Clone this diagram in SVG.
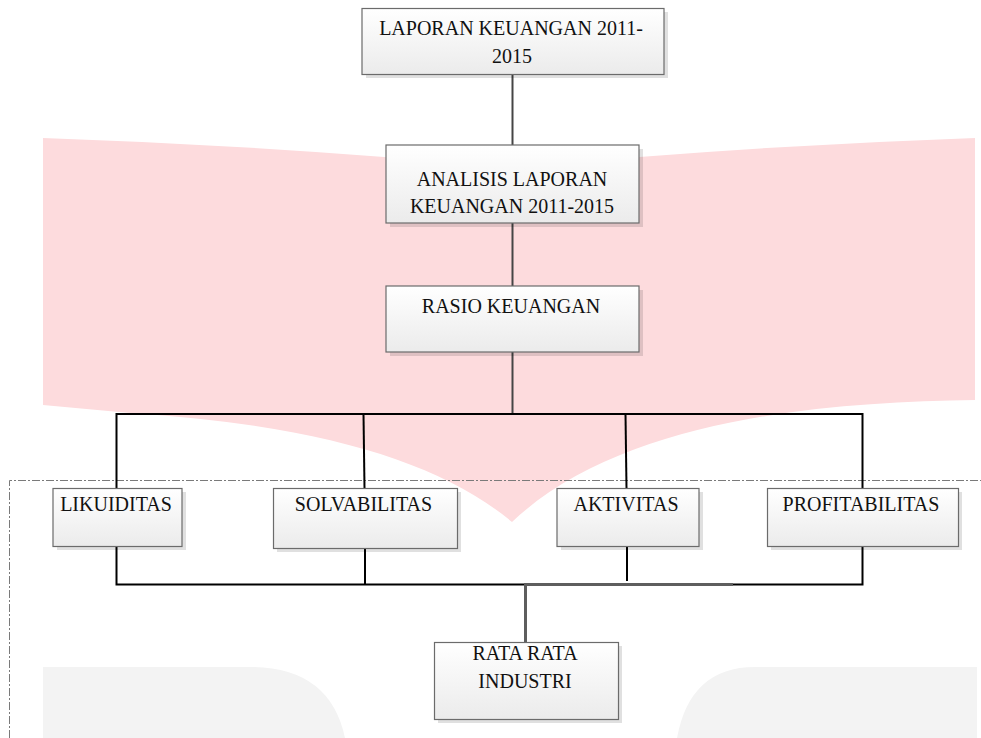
<svg xmlns="http://www.w3.org/2000/svg" width="981" height="738" viewBox="0 0 981 738">
<defs>
<linearGradient id="boxFill" x1="0" y1="0" x2="0" y2="1">
<stop offset="0" stop-color="#ffffff"/>
<stop offset="1" stop-color="#ebebeb"/>
</linearGradient>
<style>
.bg{fill:#ffffff}
.wm-pink{fill:#fddbdd}
.wm-grey{fill:#f3f3f3}
.frame{fill:none;stroke:#7a7a7a;stroke-width:1;stroke-dasharray:8 2 2 2}
.shadow{fill:#000000;opacity:0.12}
.box{fill:url(#boxFill);stroke:#6b6b6b;stroke-width:1.2}
.lbl{font-family:"Liberation Serif","Times New Roman",serif;font-size:20px;fill:#111111;text-anchor:middle}
.conn-top{fill:none;stroke:#454545;stroke-width:2}
.conn{fill:none;stroke:#000000;stroke-width:2}
.conn-grey{fill:none;stroke:#5e5e5e;stroke-width:3}
</style>
</defs>
<rect class="bg" x="0" y="0" width="981" height="738"/>
<g id="watermark">
<path class="wm-pink" d="M43,138 Q280,146 512,168 Q745,146 975,138 L975,400 C820,402 620,420 512,522 C440,462 320,425 130,413 L43,405 Z"/>
<path class="wm-grey" d="M43,667 L250,667 Q330,667 345,738 L43,738 Z"/>
<path class="wm-grey" d="M677,738 Q690,667 755,667 L977,667 L977,738 Z"/>
</g>
<g id="frame">
<path class="frame" d="M9.5,738 L9.5,480.5 L981,480.5"/>
</g>
<g id="connectors">
<path class="conn-top" d="M512.5,74 L512.5,145"/>
<path class="conn-top" d="M512.5,223 L512.5,286"/>
<path class="conn-top" d="M512.5,352 L512.5,414"/>
<path class="conn" d="M116.5,488 L116.5,414 L862.5,414 L862.5,488"/>
<path class="conn" d="M363.5,414 L364.5,488"/>
<path class="conn" d="M625.5,414 L626.5,488"/>
<path class="conn" d="M116.5,546 L116.5,584.5 L862.5,584.5 L862.5,546"/>
<path class="conn" d="M365,548 L365,584.5"/>
<path class="conn" d="M627,546 L627,581"/>
<path class="conn-grey" d="M733,584.5 L525.5,584.5 L525.5,642"/>
</g>
<g id="n-laporan">
<rect class="shadow" x="366" y="12" width="302" height="66"/>
<rect class="box" x="362" y="8.5" width="302" height="66"/>
<text class="lbl" x="511" y="35">LAPORAN KEUANGAN 2011-</text>
<text class="lbl" x="512" y="63">2015</text>
</g>
<g id="n-analisis">
<rect class="shadow" x="390" y="149" width="253" height="78"/>
<rect class="box" x="386" y="145" width="253" height="78"/>
<text class="lbl" x="512" y="186">ANALISIS LAPORAN</text>
<text class="lbl" x="512" y="212.5">KEUANGAN 2011-2015</text>
</g>
<g id="n-rasio">
<rect class="shadow" x="390" y="290" width="253" height="66"/>
<rect class="box" x="386" y="286" width="253" height="66"/>
<text class="lbl" x="511" y="313">RASIO KEUANGAN</text>
</g>
<g id="n-likuiditas">
<rect class="shadow" x="57" y="492" width="129" height="58"/>
<rect class="box" x="53" y="488.5" width="129" height="58"/>
<text class="lbl" x="116" y="511">LIKUIDITAS</text>
</g>
<g id="n-solvabilitas">
<rect class="shadow" x="277" y="492" width="184" height="60"/>
<rect class="box" x="273.5" y="488.5" width="184" height="60"/>
<text class="lbl" x="363.5" y="511">SOLVABILITAS</text>
</g>
<g id="n-aktivitas">
<rect class="shadow" x="561" y="492" width="142" height="58"/>
<rect class="box" x="557" y="488.5" width="142" height="58"/>
<text class="lbl" x="626" y="511">AKTIVITAS</text>
</g>
<g id="n-profitabilitas">
<rect class="shadow" x="771" y="492" width="191" height="58"/>
<rect class="box" x="767.5" y="488.5" width="191" height="58"/>
<text class="lbl" x="861" y="511">PROFITABILITAS</text>
</g>
<g id="n-rata">
<rect class="shadow" x="438" y="646" width="184" height="77"/>
<rect class="box" x="434.5" y="642.5" width="184" height="77"/>
<text class="lbl" x="525" y="660">RATA RATA</text>
<text class="lbl" x="525" y="688">INDUSTRI</text>
</g>
</svg>
